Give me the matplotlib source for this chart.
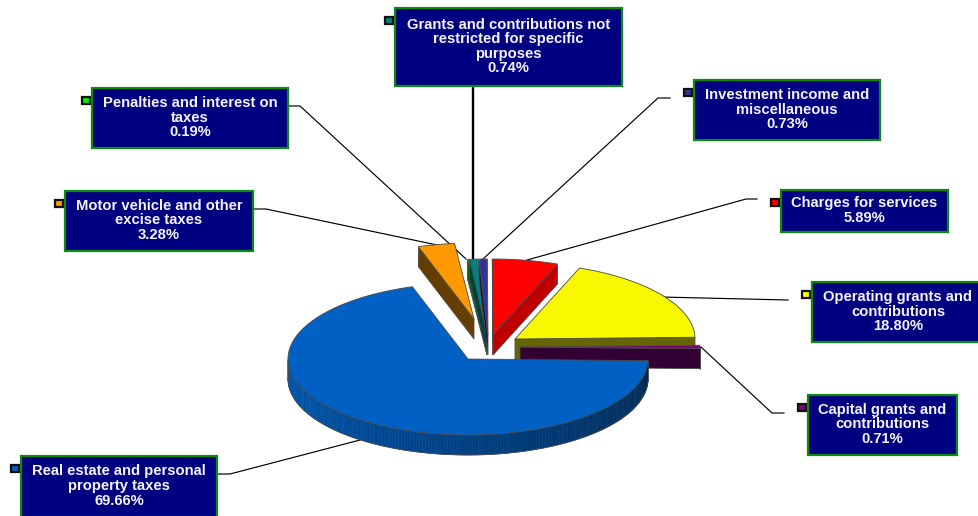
#!/usr/bin/env python3
"""Exploded 3D pie of revenue sources with boxed callout labels."""

import numpy as np
import matplotlib
matplotlib.use("Agg")
import matplotlib.pyplot as plt
from matplotlib.colors import to_rgb
from matplotlib.patches import Polygon, Rectangle

# slices, counter-clockwise from the first one
categories = [
    "Real estate and personal\nproperty taxes",
    "Capital grants and\ncontributions",
    "Operating grants and\ncontributions",
    "Charges for services",
    "Investment income and\nmiscellaneous",
    "Grants and contributions not\nrestricted for specific\npurposes",
    "Penalties and interest on\ntaxes",
    "Motor vehicle and other\nexcise taxes",
]
shares = [69.66, 0.71, 18.80, 5.89, 0.73, 0.74, 0.19, 3.28]

top_colors = ["#0060c4", "#800080", "#f8f800", "#ff0000", "#333399", "#008080", "#009933", "#ff9900"]
side_colors = ["#002850", "#330033", "#666600", "#bf0000", "#14143c", "#004040", "#006600", "#663d00"]
key_colors = ["#0060c4", "#800080", "#ffff00", "#ff0000", "#333399", "#008080", "#00ee00", "#ff9900"]

# pie geometry, in pixels
CENTER = (468, 359)
RX, RY = 180, 76
DEPTH = 20
START_ANGLE = 108
explode = [(0, 0), (52, -12), (47, -20), (25, -24), (20, -24), (19, -24), (19, -24), (6, -40)]
draw_order = [7, 6, 5, 4, 3, 2, 1, 0]

# callout layout: box (left, top, right, bottom), then the leader polyline
boxes = [
    (20, 455, 218, 518),
    (807, 394, 958, 456),
    (811, 281, 985, 343),
    (780, 189, 949, 233),
    (693, 79, 881, 141),
    (394, 7, 623, 87),
    (91, 87, 289, 149),
    (64, 190, 254, 252),
]
leaders = [
    [(218, 474), (230, 474), (360, 440)],
    [(784, 413), (772, 413), (701, 347)],
    [(788, 300), (660, 297)],
    [(757, 199), (746, 199), (527, 260)],
    [(670, 98), (658, 98), (483, 259)],
    [(473, 87), (473, 259)],
    [(289, 106), (300, 106), (466, 259)],
    [(254, 209), (266, 209), (437, 245)],
]
leader_widths = [1, 1, 1, 1, 1, 2, 1, 1]

EDGE = "#4a4a4a"


def project(cx, cy, angle_deg):
    """Map a rim angle onto the squashed ellipse."""
    a = np.radians(angle_deg)
    return cx + RX * np.cos(a), cy - RY * np.sin(a)


def shade_rim(angle_deg, color, side):
    """Lit on the left of the rim, going to the side colour on the right."""
    t = np.clip((angle_deg - 180) / 180, 0, 1)
    lit = np.array(to_rgb(color)) * 0.92
    return tuple(lit + (np.array(to_rgb(side)) - lit) * t)


def draw_slice(ax, a1, a2, offset, color, side, z):
    cx, cy = CENTER[0] + offset[0], CENTER[1] + offset[1]
    apex = (cx, cy)

    # cut faces that turn towards the viewer
    for angle, normal in ((a1, a1 - 90), (a2, a2 + 90)):
        if np.sin(np.radians(normal)) < 0:
            x, y = project(cx, cy, angle)
            face = [apex, (x, y), (x, y + DEPTH), (cx, cy + DEPTH)]
            ax.add_patch(Polygon(face, closed=True, fc=side, ec=EDGE, lw=0.6, zorder=z))

    # front rim, split into strips for the gradient
    lo, hi = max(a1, 180), min(a2, 360)
    if hi > lo:
        steps = np.linspace(lo, hi, max(int(hi - lo), 2) + 1)
        for s1, s2 in zip(steps[:-1], steps[1:]):
            x1, y1 = project(cx, cy, s1)
            x2, y2 = project(cx, cy, s2)
            c = shade_rim((s1 + s2) / 2, color, side)
            strip = [(x1, y1), (x2, y2), (x2, y2 + DEPTH), (x1, y1 + DEPTH)]
            ax.add_patch(Polygon(strip, closed=True, fc=c, ec=c, lw=0.4, zorder=z))
        xs, ys = project(cx, cy, np.linspace(lo, hi, 120))
        ax.plot(xs, ys + DEPTH, color=EDGE, lw=0.6, zorder=z)
        xe, ye = project(cx, cy, np.array([lo, hi]))
        for px, py in zip(xe, ye):
            ax.plot([px, px], [py, py + DEPTH], color=EDGE, lw=0.6, zorder=z)

    # top face
    arc = np.linspace(a1, a2, max(int(a2 - a1) * 2, 6))
    xs, ys = project(cx, cy, arc)
    top = [apex] + list(zip(xs, ys))
    ax.add_patch(Polygon(top, closed=True, fc=color, ec=EDGE, lw=0.6, zorder=z + 0.1))


fig = plt.figure(figsize=(9.79, 5.16), dpi=100)
ax = fig.add_axes([0, 0, 1, 1])
ax.set_xlim(0, 979)
ax.set_ylim(516, 0)
ax.axis("off")

# leaders sit under the pie
for line, width in zip(leaders, leader_widths):
    xs, ys = zip(*line)
    ax.plot(xs, ys, color="black", lw=width * 0.85, zorder=1)

spans = np.array(shares) / sum(shares) * 360
starts = START_ANGLE + np.concatenate([[0], np.cumsum(spans)[:-1]])
for z, i in enumerate(draw_order):
    draw_slice(ax, starts[i], starts[i] + spans[i], explode[i],
               top_colors[i], side_colors[i], 2 + z)

# callouts
for name, value, box, key in zip(categories, shares, boxes, key_colors):
    x0, y0, x1, y1 = box
    ax.add_patch(Rectangle((x0 + 1, y0 + 1), x1 - x0 - 2, y1 - y0 - 2,
                           fc="#000080", ec="#0b8a14", lw=1.6, zorder=20))
    ax.add_patch(Rectangle((x0 - 8.5, y0 + 9.5), 7.5, 7.5,
                           fc=key, ec="#101010", lw=1.6, zorder=19))
    ax.text((x0 + x1) / 2, (y0 + y1) / 2 - 0.5, f"{name}\n{value:.2f}%",
            ha="center", va="center", color="#f4f4ff", fontsize=10.6,
            fontweight="bold", family="Liberation Sans", linespacing=1.06, zorder=21)

fig.savefig("out.png", dpi=100)
plt.close(fig)
